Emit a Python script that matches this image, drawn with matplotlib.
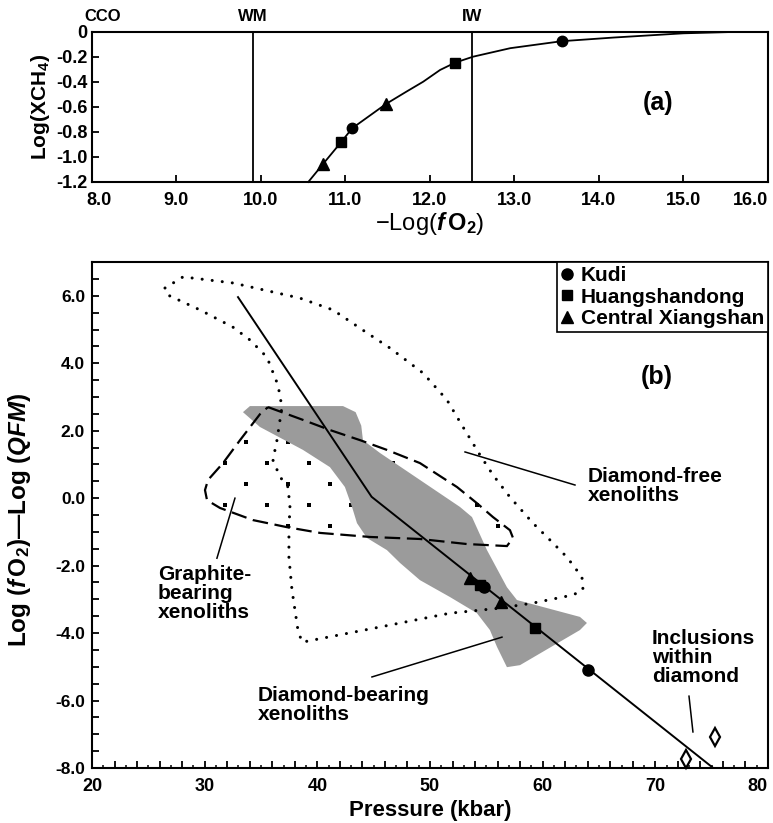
import numpy as np
import matplotlib.pyplot as plt
from matplotlib.patches import Polygon
from matplotlib.lines import Line2D
from matplotlib.path import Path
from matplotlib.ticker import MultipleLocator, FuncFormatter
from matplotlib.transforms import ScaledTranslation

plt.rcParams['font.family'] = ['Liberation Sans', 'DejaVu Sans']
plt.rcParams['font.weight'] = 'bold'
plt.rcParams['axes.labelweight'] = 'bold'
plt.rcParams['axes.unicode_minus'] = False
plt.rcParams['mathtext.fontset'] = 'custom'
plt.rcParams['mathtext.rm'] = 'Liberation Sans:bold'
plt.rcParams['mathtext.it'] = 'Liberation Sans:italic:bold'
plt.rcParams['mathtext.bf'] = 'Liberation Sans:bold'

# ---- panel (a): log X(CH4) vs -log fO2 ----
curve_fo2 = [10.56, 10.73, 10.95, 11.08, 11.28, 11.48, 11.72, 11.92, 12.12, 12.30,
             12.51, 12.95, 13.56, 14.17, 15.0, 15.6, 16.0]
curve_xch4 = [-1.2, -1.06, -0.88, -0.77, -0.673, -0.576, -0.478, -0.398, -0.304, -0.245,
              -0.198, -0.13, -0.074, -0.045, -0.011, 0.0, 0.0]

buffer_names = ['CCO', 'WM', 'IW']
buffer_fo2 = [8.0, 9.9, 12.5]
buffer_label_fo2 = [8.13, 9.9, 12.5]

kudi_fo2, kudi_xch4 = [11.08, 13.56], [-0.77, -0.07]
hsd_fo2, hsd_xch4 = [10.95, 12.30], [-0.88, -0.245]
cx_fo2, cx_xch4 = [10.73, 11.48], [-1.06, -0.576]

# ---- panel (b): dlogfO2(QFM) vs pressure ----
kudi_p, kudi_dq = [54.79, 64.02], [-2.64, -5.10]
hsd_p, hsd_dq = [54.44, 59.32], [-2.58, -3.85]
cx_p, cx_dq = [53.55, 56.30], [-2.37, -3.08]

trend_p = [32.96, 44.82, 75.03]
trend_dq = [5.96, 0.04, -7.97]

incl_p = [72.72, 75.29]
incl_dq = [-7.73, -7.08]

# diamond-bearing xenoliths (grey field)
dbear_p = [33.40, 34.02, 42.28, 43.40, 43.90, 44.05, 45.56, 49.11, 52.66, 53.73, 55.06,
           56.83, 57.72, 63.31, 63.93, 63.31, 57.99, 56.83, 55.95, 55.32, 54.17,
           51.77, 49.11, 47.34, 46.18, 44.41, 43.52, 43.08, 42.45, 41.12, 38.73, 34.91]
dbear_dq = [2.55, 2.73, 2.73, 2.55, 2.15, 1.72, 1.34, 0.54, -0.26, -0.56, -1.54,
            -2.64, -3.02, -3.52, -3.70, -3.91, -4.95, -5.01, -4.41, -3.91, -3.41,
            -2.93, -2.43, -1.92, -1.54, -1.18, -0.74, -0.26, 0.33, 0.92, 1.43, 2.11]

# diamond-free xenoliths (dotted field)
dfree_p = [26.48, 28.08, 32.51, 38.46, 41.39, 44.41, 46.45, 49.38, 51.51, 52.93,
           54.44, 55.59, 57.10, 59.14, 60.65, 62.16, 63.49, 63.58, 62.69, 59.14,
           56.21, 51.77, 45.56, 38.64, 38.28, 37.75, 37.48, 37.48, 37.57, 37.40,
           36.69, 36.06, 36.42, 36.86, 36.51, 35.53, 34.02, 32.51, 29.59, 26.75]
dfree_dq = [6.23, 6.56, 6.38, 5.93, 5.58, 4.90, 4.45, 3.71, 2.91, 2.11,
            1.28, 0.69, 0.03, -0.74, -1.24, -1.75, -2.34, -2.72, -2.87, -3.11,
            -3.26, -3.41, -3.82, -4.27, -3.91, -2.72, -1.75, -0.95, -0.26, 0.33,
            0.63, 1.13, 1.72, 2.70, 3.35, 4.18, 4.69, 5.07, 5.58, 6.02]

# graphite-bearing xenoliths (dashed field)
graph_p = [35.62, 38.73, 41.12, 43.79, 46.18, 49.11, 52.40, 54.17, 55.59, 57.10,
           57.37, 56.83, 53.28, 49.11, 44.67, 40.24, 37.31, 34.29, 31.36, 30.21,
           30.03, 30.30, 31.63, 33.14, 34.91]
graph_dq = [2.70, 2.32, 2.02, 1.72, 1.43, 1.04, 0.33, -0.15, -0.56, -0.95,
            -1.18, -1.42, -1.36, -1.21, -1.15, -1.03, -0.86, -0.65, -0.29, -0.06,
            0.24, 0.54, 1.04, 1.72, 2.49]

fig = plt.figure(figsize=(7.73, 8.23), dpi=100)
ax1 = fig.add_axes([0.119, 0.7789, 0.8745, 0.1823])
ax2 = fig.add_axes([0.119, 0.0668, 0.8745, 0.6148])

mk = dict(color='black', linestyle='none', zorder=5)

# ---------------- (a) ----------------
ax1.plot(curve_fo2, curve_xch4, color='black', lw=1.3, clip_on=False, zorder=4)
for name, x, lx in zip(buffer_names, buffer_fo2, buffer_label_fo2):
    if x > 8.0:
        ax1.axvline(x, color='black', lw=1.3)
    ax1.text(lx, 1.1, name, transform=ax1.get_xaxis_transform(), ha='center',
             va='center', fontsize=12)
ax1.plot(kudi_fo2, kudi_xch4, marker='o', ms=7.5, **mk)
ax1.plot(hsd_fo2, hsd_xch4, marker='s', ms=6.5, **mk)
ax1.plot(cx_fo2, cx_xch4, marker='^', ms=8, **mk)
ax1.text(14.7, -0.57, '(a)', ha='center', va='center', fontsize=18)

ax1.set_xlim(8, 16)
ax1.set_ylim(-1.2, 0)
ax1.xaxis.set_major_locator(MultipleLocator(1))
ax1.yaxis.set_major_locator(MultipleLocator(0.2))
ax1.xaxis.set_major_formatter(FuncFormatter(lambda v, p: f'{v:.1f}'))
ax1.yaxis.set_major_formatter(FuncFormatter(lambda v, p: '0' if abs(v) < 1e-9 else f'{v:.1f}'))
ax1.tick_params(direction='in', length=5, width=1.3, labelsize=13)
ax1.tick_params(axis='x', pad=7)
ax1.tick_params(axis='y', pad=3)
ax1.set_xlabel('\u2212Log(' + r'$f\,\mathrm{O}_2$' + ')', fontsize=17,
               fontweight='normal', labelpad=1)
ax1.set_ylabel('Log(' + r'$\mathrm{XCH}_4$' + ')', fontsize=15, labelpad=3)

# ---------------- (b) ----------------
gpoly = np.column_stack([graph_p, graph_dq])

# sparse dot texture inside the graphite-bearing field (drawn under the grey field)
gx, gy = [], []
for k in range(-6, 8):
    for m in range(-4, 8):
        gx.append(33.67 + m * 3.73 + (1.865 if k % 2 else 0.0))
        gy.append(1.66 + k * 0.623)
pts = np.column_stack([gx, gy])
inside = Path(gpoly).contains_points(pts)
ax2.scatter(pts[inside, 0], pts[inside, 1], s=5, color='black', marker='s',
            linewidths=0, zorder=0.5)

ax2.add_patch(Polygon(np.column_stack([dbear_p, dbear_dq]), closed=True,
                      facecolor='#9b9b9b', edgecolor='none', zorder=1))
ax2.add_patch(Polygon(np.column_stack([dfree_p, dfree_dq]), closed=True, fill=False,
                      edgecolor='black', lw=2.2, linestyle=(0, (0.01, 3.3)),
                      capstyle='round', zorder=2))
ax2.add_patch(Polygon(gpoly, closed=True, fill=False, edgecolor='black', lw=1.6,
                      linestyle=(0, (7, 3)), zorder=3))

ax2.plot(trend_p, trend_dq, color='black', lw=1.4, zorder=4)
ax2.plot(kudi_p, kudi_dq, marker='o', ms=8, **mk)
ax2.plot(hsd_p, hsd_dq, marker='s', ms=7, **mk)
ax2.plot(cx_p, cx_dq, marker='^', ms=8.5, **mk)
ax2.plot(incl_p, incl_dq, marker='d', ms=9, mfc='white', mec='black', mew=1.6,
         linestyle='none', zorder=6, clip_on=False)

txt = dict(fontsize=15, ha='left', va='top', linespacing=1.0)
ax2.text(64.0, 0.92, 'Diamond-free\nxenoliths', **txt)
ax2.plot([53.11, 62.87], [1.37, 0.39], color='black', lw=1.1)
ax2.text(25.86, -1.98, 'Graphite-\nbearing\nxenoliths', **txt)
ax2.plot([31.09, 32.69], [-1.78, 0.0], color='black', lw=1.1)
ax2.text(34.73, -5.57, 'Diamond-bearing\nxenoliths', **txt)
ax2.plot([44.85, 56.39], [-5.30, -4.12], color='black', lw=1.1)
ax2.text(69.7, -3.88, 'Inclusions\nwithin\ndiamond', **txt)
ax2.plot([72.99, 73.34], [-5.87, -6.93], color='black', lw=1.1)
ax2.text(70.1, 3.59, '(b)', ha='center', va='center', fontsize=18)

handles = [Line2D([], [], marker='o', ms=8, color='black', linestyle='none'),
           Line2D([], [], marker='s', ms=7, color='black', linestyle='none'),
           Line2D([], [], marker='^', ms=8.5, color='black', linestyle='none')]
leg = ax2.legend(handles, ['Kudi', 'Huangshandong', 'Central Xiangshan'],
                 loc='upper right', borderaxespad=0, fancybox=False, framealpha=1,
                 edgecolor='black', fontsize=15, handlelength=0.6, handletextpad=0.35,
                 labelspacing=0.12, borderpad=0.2)
leg.get_frame().set_linewidth(1.2)

ax2.set_xlim(20, 80)
ax2.set_ylim(-8, 7)
ax2.xaxis.set_major_locator(MultipleLocator(2))
ax2.xaxis.set_minor_locator(MultipleLocator(1))
ax2.yaxis.set_major_locator(MultipleLocator(0.5))
ax2.xaxis.set_major_formatter(FuncFormatter(lambda v, p: f'{v:.0f}' if round(v) % 10 == 0 else ''))
ax2.yaxis.set_major_formatter(FuncFormatter(lambda v, p: f'{v:.1f}' if abs(v / 2 - round(v / 2)) < 1e-6 else ''))
ax2.tick_params(which='major', direction='in', length=5, width=1.3, labelsize=13)
ax2.tick_params(which='minor', direction='in', length=2.5, width=1.1)
ax2.tick_params(axis='x', pad=7)
ax2.tick_params(axis='y', pad=5, labelsize=12.5)
ax2.set_xlabel('Pressure (kbar)', fontsize=16, labelpad=4)
ax2.set_ylabel('Log (' + r'$f\,\mathrm{O}_2$' + ')\u2014Log (' + r'$QFM$' + ')',
               fontsize=17.5)
ax2.yaxis.set_label_coords(-0.088, 0.49)

for ax in (ax1, ax2):
    for s in ax.spines.values():
        s.set_linewidth(1.5)

# keep the end tick labels inside the frame, as in the original
fig.canvas.draw()
for ax in (ax1, ax2):
    lo, hi = ax.get_xlim()
    vis = [t for t in ax.xaxis.get_major_ticks()
           if lo - 1e-6 <= t.get_loc() <= hi + 1e-6 and t.label1.get_text()]
    vis[-1].label1.set_horizontalalignment('right')
first = [t for t in ax1.xaxis.get_major_ticks() if abs(t.get_loc() - 8.0) < 1e-6][0]
first.label1.set_transform(first.label1.get_transform()
                           + ScaledTranslation(7 / 100, 0, fig.dpi_scale_trans))

fig.savefig('out.png', dpi=100)
